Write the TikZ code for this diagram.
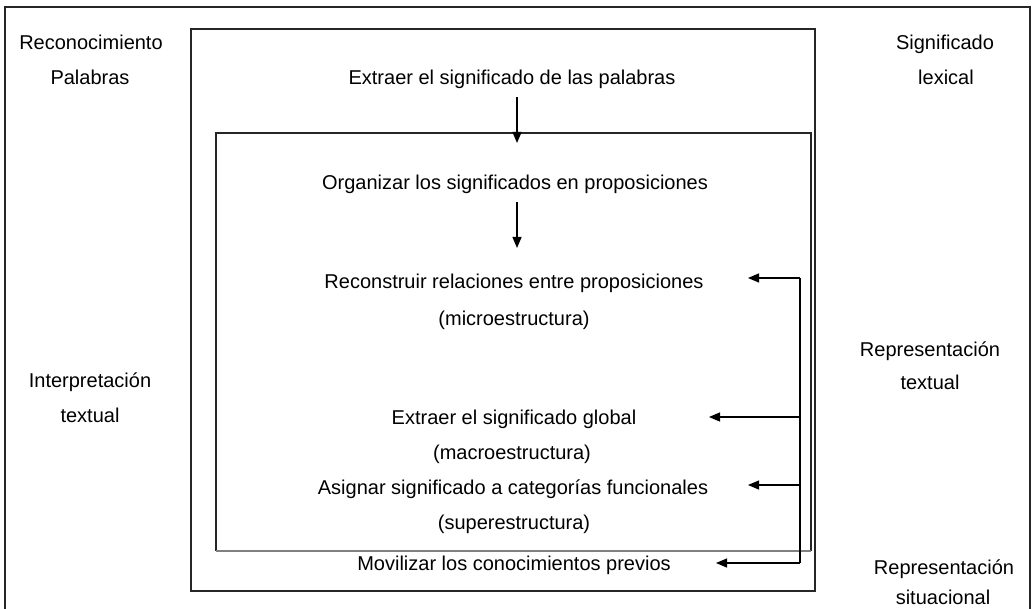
\documentclass[tikz,border=0pt]{standalone}
\usepackage{fontspec}
\setmainfont{Liberation Sans}
\usetikzlibrary{arrows.meta}
\begin{document}
\begin{tikzpicture}[x=1pt,y=-1pt,
  lbl/.style={anchor=base,inner sep=0pt,font=\fontsize{20}{23}\selectfont},
  frame/.style={line width=1.4pt,draw=black!85},
  conn/.style={line width=1.3pt,-{Triangle[length=11pt,width=9pt]}}]
\useasboundingbox (0,0) rectangle (1033,609);
% outer frame
\draw[frame] (5,612) -- (5,7) -- (1030,7) -- (1030,612);
% middle box
\draw[frame] (191,29) rectangle (815,591);
% inner box
\draw[frame] (216,551) -- (216,133) -- (811,133) -- (811,551);
\draw[line width=1.4pt,draw=black!50] (216,551) -- (811,551);
% side labels
\node[lbl] (rec) at (91,50) {Reconocimiento};
\node[lbl] (pal) at (90,85) {Palabras};
\node[lbl] (sig) at (945,50) {Significado};
\node[lbl] (lex) at (946,85) {lexical};
\node[lbl] (int) at (90,388) {Interpretación};
\node[lbl] (intt) at (90,422) {textual};
\node[lbl] (rep) at (930,356) {Representación};
\node[lbl] (rept) at (930,389) {textual};
\node[lbl] (reps) at (944,574) {Representación};
\node[lbl] (sit) at (943,604) {situacional};
% central texts
\node[lbl] (ext) at (512,85) {Extraer el significado de las palabras};
\node[lbl] (org) at (515,190) {Organizar los significados en proposiciones};
\node[lbl] (rcs) at (514,289) {Reconstruir relaciones entre proposiciones};
\node[lbl] (mic) at (514,326) {(microestructura)};
\node[lbl] (glo) at (514,424) {Extraer el significado global};
\node[lbl] (mac) at (512,459) {(macroestructura)};
\node[lbl] (asi) at (513,494) {Asignar significado a categorías funcionales};
\node[lbl] (sup) at (514,529) {(superestructura)};
\node[lbl] (mov) at (514,570) {Movilizar los conocimientos previos};
% arrow coordinates
\coordinate (d1s) at (517,97);
\coordinate (d1e) at (517,143);
\coordinate (d2s) at (517,202);
\coordinate (d2e) at (517,248);
\coordinate (vt) at (800,278);
\coordinate (vb) at (800,563);
\coordinate (t1) at (748,278);
\coordinate (v2) at (800,417);
\coordinate (t2) at (709,417);
\coordinate (v3) at (800,485);
\coordinate (t3) at (748,485);
\coordinate (t4) at (716,563);
\draw[conn] (d1s) -- (d1e);
\draw[conn] (d2s) -- (d2e);
\draw[line width=1.3pt] (vt) -- (vb);
\draw[conn] (vt) -- (t1);
\draw[conn] (v2) -- (t2);
\draw[conn] (v3) -- (t3);
\draw[conn] (vb) -- (t4);
\end{tikzpicture}
\end{document}
